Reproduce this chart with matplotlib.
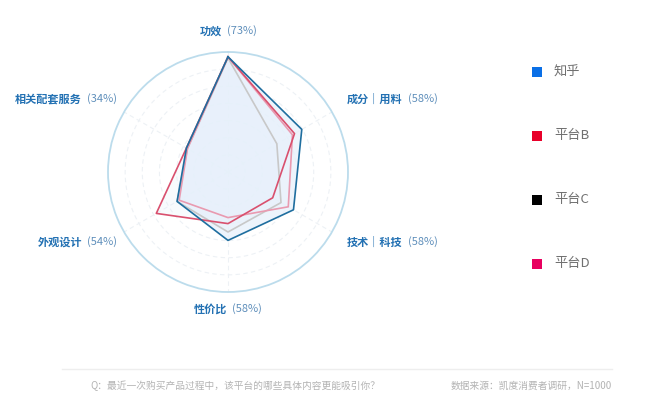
import numpy as np
import matplotlib
matplotlib.use("Agg")
import matplotlib.pyplot as plt
from matplotlib.patches import Rectangle

plt.rcParams['font.family'] = ['Noto Sans CJK SC', 'DejaVu Sans']

categories = ["功效", "成分｜用料", "技术｜科技", "性价比", "外观设计", "相关配套服务"]
cat_pcts = ["73%", "58%", "58%", "58%", "54%", "34%"]
series_names = ["知乎", "平台B", "平台C", "平台D"]
zhihu = [96, 71, 63, 57, 49, 40]
plat_b = [96, 64, 43, 43, 69, 40]
plat_c = [95, 47, 51, 50, 49, 39]
plat_d = [96, 62, 58, 38, 47, 39]
legend_colors = ["#0a6fe6", "#e8002a", "#000000", "#e8005f"]
line_colors = ["#1f6e9f", "#d9506e", "#c8c8c8", "#e99ab0"]

W, H = 650, 400
fig = plt.figure(figsize=(6.5, 4.0), dpi=100)
cx, cy, R = 228, 172, 120
ax = fig.add_axes([(cx - R) / W, (H - cy - R) / H, 2 * R / W, 2 * R / H], polar=True)
ax.set_theta_offset(np.pi / 2)
ax.set_theta_direction(-1)
ax.set_ylim(0, 100)
ax.set_xticks([])
ax.set_yticks([])
ax.grid(False)
ax.spines['polar'].set_color('#bcdcec')
ax.spines['polar'].set_linewidth(1.3)
ax.set_facecolor('none')

n = len(categories)
angles = np.linspace(0, 2 * np.pi, n, endpoint=False)
tt = np.linspace(0, 2 * np.pi, 300)
for r in np.arange(1, 7) * 100 / 7:
    ax.plot(tt, np.full_like(tt, r), color='#edf1f5', lw=0.8, ls=(0, (4, 3)), zorder=1)
for a in angles:
    ax.plot([a, a], [0, 100], color='#edf1f5', lw=0.8, ls=(0, (4, 3)), zorder=1)

data = [zhihu, plat_b, plat_c, plat_d]
closed_ang = np.concatenate([angles, angles[:1]])
for i, vals in enumerate(data):
    v = np.array(vals + vals[:1], dtype=float)
    ax.fill(closed_ang, v, color='#e6f0fb', alpha=0.7 if i == 0 else 0.25, zorder=2, lw=0)
order = [2, 3, 1, 0]
for i in order:
    vals = data[i]
    v = np.array(vals + vals[:1], dtype=float)
    ax.plot(closed_ang, v, color=line_colors[i], lw=1.2, zorder=3 + order.index(i))

# category labels
renderer = fig.canvas.get_renderer()
name_col = '#2371b3'
pct_col = '#5f8fbb'
gap = 5
label_pos = [(228, 31, 'center'), (347, 99, 'left'), (347, 242, 'left'),
             (228, 309, 'center'), (117, 242, 'right'), (117, 99, 'right')]
for (x, y, ha), name, pct in zip(label_pos, categories, cat_pcts):
    t1 = fig.text(0, 0, name, fontsize=8, fontweight='bold', color=name_col, va='center')
    t2 = fig.text(0, 0, "(" + pct + ")", fontsize=8, color=pct_col, va='center')
    w1 = t1.get_window_extent(renderer).width
    w2 = t2.get_window_extent(renderer).width
    tot = w1 + gap + w2
    if ha == 'center':
        x0 = x - tot / 2
    elif ha == 'right':
        x0 = x - tot
    else:
        x0 = x
    t1.set_position((x0 / W, (H - y) / H))
    t2.set_position(((x0 + w1 + gap) / W, (H - y) / H))

# legend
leg_y = [72, 136, 200, 264]
for name, col, y in zip(series_names, legend_colors, leg_y):
    fig.patches.append(Rectangle(((532) / W, (H - y - 5) / H), 10 / W, 10 / H,
                                 transform=fig.transFigure, facecolor=col, edgecolor='none'))
    fig.text(554 / W, (H - y) / H, name, fontsize=9.5, color='#707070', va='center', ha='left')

# footer
fig.add_artist(plt.Line2D([62 / W, 612 / W], [(H - 369) / H] * 2, color='#eeeeee', lw=1,
                          transform=fig.transFigure))
fig.text(90 / W, (H - 386) / H, "Q：最近一次购买产品过程中，该平台的哪些具体内容更能吸引你？",
         fontsize=7, color='#b3b3b3', va='center', ha='left')
fig.text(612 / W, (H - 386) / H, "数据来源：凯度消费者调研，N=1000",
         fontsize=7, color='#b3b3b3', va='center', ha='right')

fig.savefig("out.png", dpi=100, facecolor='white')
